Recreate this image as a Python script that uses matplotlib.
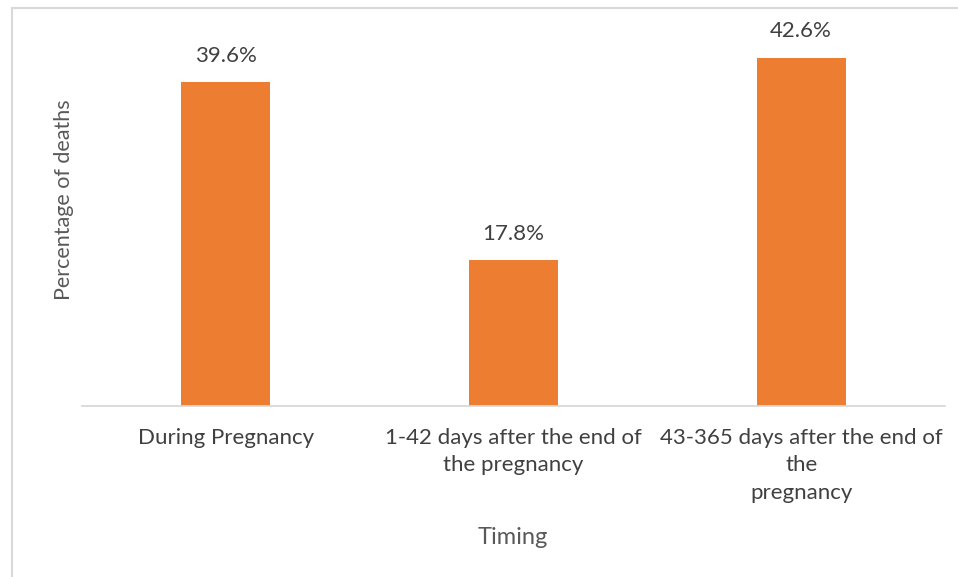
import matplotlib.pyplot as plt
from matplotlib.patches import Rectangle

categories = ["During Pregnancy",
              "1-42 days after the end of\nthe pregnancy",
              "43-365 days after the end of\nthe\npregnancy"]
percent = [39.6, 17.8, 42.6]

bar_color = "#ED7D31"
text_color = "#595959"
plt.rcParams['font.family'] = ['Lato', 'DejaVu Sans']

fig = plt.figure(figsize=(9.58, 5.77), dpi=100)

# chart area border, runs off the right and bottom edges
fig.patches.append(Rectangle((12 / 958, -0.1), 1.0, 1 - 8 / 577 + 0.1,
                             transform=fig.transFigure, fill=False,
                             edgecolor="#D9D9D9", linewidth=1.5))

ax = fig.add_axes([82 / 958, 1 - 406 / 577, 863 / 958, (406 - 38) / 577])
x = range(len(categories))
ax.bar(x, percent, width=0.31, color=bar_color)
for i, v in enumerate(percent):
    ax.text(i, v + 2.0, f"{v}%", ha="center", va="bottom",
            fontsize=16, color="#404040")

ax.set_xlim(-0.5, 2.5)
ax.set_ylim(0, 45)
ax.set_yticks([])
ax.set_xticks(list(x))
ax.set_xticklabels(categories, fontsize=16, color="#404040", linespacing=1.45)
ax.tick_params(axis="x", length=0, pad=16)
for s in ["top", "right", "left"]:
    ax.spines[s].set_visible(False)
ax.spines["bottom"].set_color("#D9D9D9")
ax.spines["bottom"].set_linewidth(1.3)

fig.text(64 / 958, 1 - 200 / 577, "Percentage of deaths", rotation=90,
         ha="center", va="center", fontsize=15.5, color=text_color)
fig.text(513 / 958, 1 - 537 / 577, "Timing", ha="center", va="center",
         fontsize=17, color=text_color)

fig.savefig("out.png", dpi=100)
